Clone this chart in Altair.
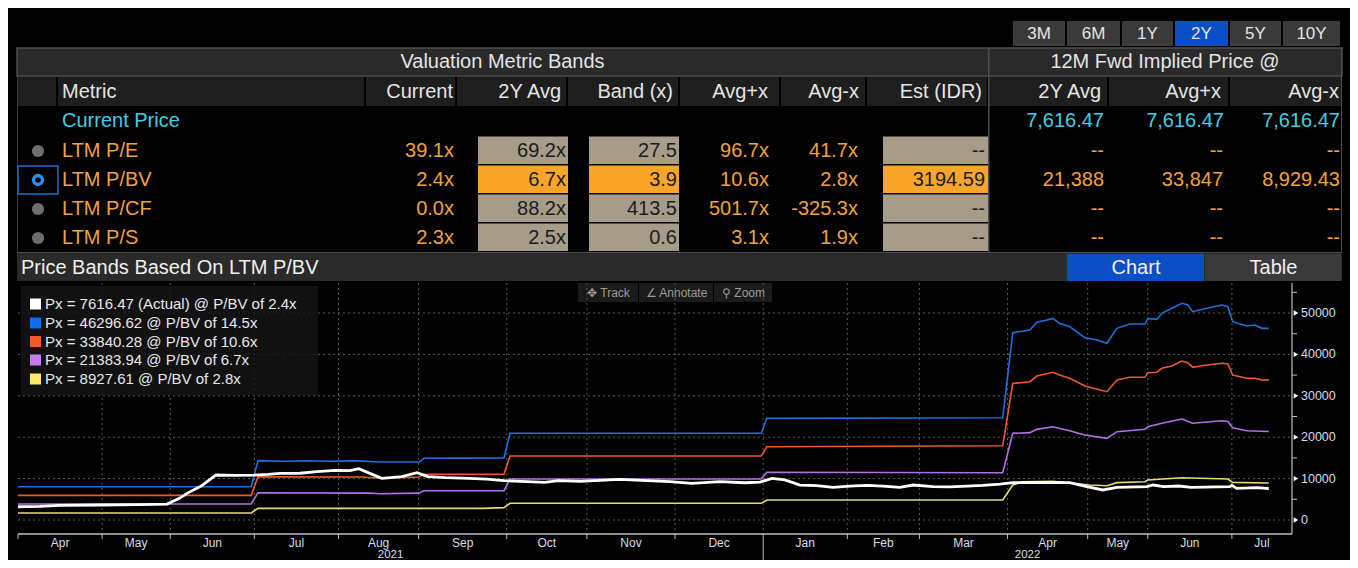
import altair as alt
import pandas as pd

# ---------------- values ----------------
periods = ["3M", "6M", "1Y", "2Y", "5Y", "10Y"]
selected_period = "2Y"
group_titles = ["Valuation Metric Bands", "12M Fwd Implied Price @"]
headers = ["Metric", "Current", "2Y Avg", "Band (x)", "Avg+x", "Avg-x",
           "Est (IDR)", "2Y Avg", "Avg+x", "Avg-x"]
price_label = "Current Price"
price_values = ["7,616.47", "7,616.47", "7,616.47"]
metrics = ["LTM P/E", "LTM P/BV", "LTM P/CF", "LTM P/S"]
selected_metric = "LTM P/BV"
current = ["39.1x", "2.4x", "0.0x", "2.3x"]
avg_2y = ["69.2x", "6.7x", "88.2x", "2.5x"]
band_x = ["27.5", "3.9", "413.5", "0.6"]
avg_plus = ["96.7x", "10.6x", "501.7x", "3.1x"]
avg_minus = ["41.7x", "2.8x", "-325.3x", "1.9x"]
est_idr = ["--", "3194.59", "--", "--"]
fwd_avg = ["--", "21,388", "--", "--"]
fwd_plus = ["--", "33,847", "--", "--"]
fwd_minus = ["--", "8,929.43", "--", "--"]
section_title = "Price Bands Based On LTM P/BV"
view_buttons = ["Chart", "Table"]
selected_view = "Chart"
tools = ["\u2725 Track", "\u2220 Annotate", "\u26b2 Zoom"]

# trading-day calendar (x axis counts trading days from 1 Apr 2021)
month_names = ["Apr", "May", "Jun", "Jul", "Aug", "Sep", "Oct", "Nov", "Dec",
               "Jan", "Feb", "Mar", "Apr", "May", "Jun", "Jul"]
month_start = [0, 21, 38, 59, 80, 100, 122, 142, 164, 186, 207, 225, 247, 267, 282, 303]
axis_end = 318
year_names = ["2021", "2022"]
year_start = [0, 186]
y_ticks = [0, 10000, 20000, 30000, 40000, 50000]
y_minor = [5000, 15000, 25000, 35000, 45000, 55000]

series_last = [7616.47, 46296.62, 33840.28, 21383.94, 8927.61]
series_multiple = ["2.4", "14.5", "10.6", "6.7", "2.8"]

actual_idx = [0, 5.5, 10.5, 20.5, 30.4, 37.2, 40.4, 42.2, 45.7, 49.4, 54.2, 58.9, 62.4, 65.4, 70.4,
              74.6, 79.1, 82.9, 85.1, 87.8, 90.8, 95.8, 99.6, 102.3, 106.8, 112.6, 117.0, 121.3, 127.0,
              131.5, 134.8, 140.3, 150.2, 157.0, 162.7, 168.2, 175.2, 181.4, 185.2, 188.2, 191.4, 195.2,
              199.4, 203.4, 207.6, 211.9, 215.9, 220.1, 223.4, 228.4, 232.6, 236.8, 240.8, 245.1, 248.3,
              255.0, 262.5, 266.8, 270.8, 274.3, 281.8, 283.3, 286.0, 289.8, 292.8, 302.5, 303.0, 304.2,
              309.2, 312.2]
actual_val = [3200, 3300, 3550, 3620, 3700, 3860, 5300, 6440, 8200, 10870, 10800, 10850, 11000, 11270,
              11300, 11670, 12000, 11950, 12400, 11270, 10070, 10470, 11430, 10470, 10220, 10070, 9900,
              9500, 9260, 9100, 9500, 9340, 9820, 9500, 9260, 8860, 9250, 9000, 9150, 10070, 9700, 8450,
              8300, 7900, 8200, 8370, 8200, 7900, 8450, 8050, 7980, 8200, 8370, 8650, 9020, 9100, 9020,
              8050, 7250, 7900, 8050, 8450, 8050, 8210, 7900, 8050, 8370, 7650, 7800, 7616]

blue_idx = [0, 58.2, 59.9, 66, 72, 78, 84, 90, 100.1, 101.3, 110, 121.3, 122.8, 185.5, 186.9, 245.8,
            248.3, 252.6, 254.3, 256.3, 258.3, 260.0, 262.5, 266.3, 269.3, 271.8, 274.3, 277.5, 281.3,
            282.0, 284.3, 285.5, 288.0, 290.5, 292.0, 293.2, 296.7, 300.5, 302.0, 303.2, 306.7, 308.7,
            310.5, 312.2]
blue_val = [8040, 8040, 14330, 14200, 14300, 14200, 14350, 14000, 14000, 14900, 14950, 14980, 20940,
            20940, 24560, 24700, 45240, 45900, 47750, 48200, 48700, 47500, 46700, 44040, 43480, 42680,
            46300, 47340, 47340, 48700, 48460, 49920, 51130, 52340, 51940, 50320, 51130, 51940, 51530,
            47900, 46860, 47100, 46300, 46297]

red_idx = [0, 58.2, 59.9, 85.4, 90.8, 100.1, 101.3, 121.3, 122.8, 185.5, 186.9, 245.8, 248.3, 252.6,
           254.3, 258.3, 260.0, 262.5, 266.3, 271.8, 274.3, 277.5, 281.3, 282.0, 284.3, 285.5, 288.0,
           290.5, 292.0, 293.2, 296.7, 300.5, 302.0, 303.2, 306.7, 308.7, 310.5, 312.2]
red_val = [5960, 5960, 10460, 10400, 10100, 10400, 11040, 11040, 15460, 15460, 17700, 17950, 33000,
           33400, 34780, 35680, 35000, 34230, 32370, 31000, 33820, 34470, 34470, 35590, 35700, 36640,
           37200, 38400, 38000, 36880, 37440, 37850, 37700, 35020, 34230, 34230, 33820, 33840]

purple_idx = [0, 58.2, 59.9, 87.8, 90.3, 100.1, 101.3, 121.3, 122.8, 185.5, 186.9, 245.8, 248.3, 252.6,
              254.3, 258.3, 262.5, 266.3, 271.8, 274.3, 281.3, 282.0, 285.5, 290.5, 293.2, 300.5, 302.0,
              303.2, 306.7, 312.2]
purple_val = [3860, 3860, 6600, 6500, 6350, 6500, 7080, 7080, 9900, 9900, 11520, 11430, 20940, 21100,
              21900, 22540, 21570, 20530, 19730, 21330, 21900, 22540, 23360, 24400, 23360, 23990, 23800,
              22300, 21570, 21384]

yellow_idx = [0, 58.2, 59.9, 116.0, 121.3, 122.8, 185.5, 186.9, 245.8, 248.3, 250.8, 258.3, 267.5,
              271.8, 274.3, 281.3, 282.0, 290.5, 302.0, 303.2, 312.2]
yellow_val = [1690, 1690, 2820, 2820, 2990, 4030, 4030, 4830, 4830, 8450, 9250, 9370, 8450, 8290, 9020,
              9250, 9660, 10220, 9900, 9100, 8928]

# ---------------- styles & layout (screenshot pixels) ----------------
FONT = "Liberation Sans, Arial, Helvetica, sans-serif"
W, H = 1342, 552
OFF = 8


def P(v):
    return v - OFF


C_BTN, C_SEL = "#3a3a3a", "#0b4fc6"
C_HDR1, C_HDR2, C_BORDER = "#2a2a2a", "#1e1e1e", "#4d4d4d"
C_TXT, C_ORANGE, C_CYAN = "#e4e4e4", "#f2a23a", "#42cde6"
C_TAN, C_HI, C_DARK = "#a79b89", "#f9a52a", "#1c1c1c"
C_DOT, C_RING = "#6e6e6e", "#2e8ff0"
C_GRID, C_AXIS, C_LBL = "#5a5a5a", "#bdbdbd", "#d6deec"
series_colors = ["#ffffff", "#1f6fe0", "#ec5a2c", "#b86eea", "#e6dc72"]
legend_colors = ["#ffffff", "#0f6cf5", "#f0592b", "#c47cf5", "#fbe66a"]

btn_edges = [1013, 1067, 1122, 1175, 1230, 1283, 1342]
col_edges = [17, 57, 365, 456, 567, 679, 780, 866, 988, 1108, 1229, 1342]
header_right = [None, 453, 561, 673, 768, 859, 982, 1101, 1221, 1339]
row_y = [121, 151, 180, 209, 238]
PL, PR, PT, PB = 18, 1292, 283, 534

rects, boxes = [], []
t_left, t_center, t_right = [], [], []


def rect(x1, y1, x2, y2, fill):
    rects.append(dict(x=P(x1), x2=P(x2), y=P(y1), y2=P(y2), fill=fill))


def box(x1, y1, x2, y2, stroke):
    boxes.append(dict(x=P(x1), x2=P(x2), y=P(y1), y2=P(y2), stroke=stroke))


def txt(lst, x, y, s, color, size):
    lst.append(dict(x=P(x), y=P(y), text=s, color=color, size=size))


# period buttons
for i, p in enumerate(periods):
    x1, x2 = btn_edges[i], btn_edges[i + 1] - 2
    rect(x1, 21, x2, 46, C_SEL if p == selected_period else C_BTN)
    txt(t_center, (x1 + x2) / 2, 34, p, C_TXT, 17)

# group title row
rect(17, 48, 1342, 76, C_HDR1)
box(17, 48, 1342, 76, C_BORDER)
txt(t_center, (17 + 988) / 2, 62, group_titles[0], C_TXT, 20)
txt(t_center, (988 + 1342) / 2, 62, group_titles[1], C_TXT, 20)

# column header row
for i in range(len(col_edges) - 1):
    rect(col_edges[i] + (0 if i == 0 else 1), 77, col_edges[i + 1] - 1, 106, C_HDR2)
txt(t_left, 62, 92, headers[0], C_TXT, 20)
for h, xr in zip(headers[1:], header_right[1:]):
    txt(t_right, xr, 92, h, C_TXT, 20)

# frame lines of the table
rect(17, 48, 18, 253, "#3c3c3c")
rect(988, 48, 989.5, 253, C_BORDER)
rect(1341, 48, 1342, 253, C_BORDER)
rect(17, 252, 1342, 253.5, C_BORDER)

# current price row
txt(t_left, 62, row_y[0], price_label, C_CYAN, 20)
for xr, v in zip([1104, 1224, 1340], price_values):
    txt(t_right, xr, row_y[0], v, C_CYAN, 20)

# metric rows
for i, m in enumerate(metrics):
    yc = row_y[i + 1]
    sel = m == selected_metric
    cell = C_HI if sel else C_TAN
    y1, y2 = yc - 14.5, yc + 13
    rect(478, y1, 568, y2, cell)
    rect(589, y1, 679, y2, cell)
    rect(883, y1, 988, y2, cell)
    if sel:
        box(18, yc - 14, 58, yc + 14, "#1d6fd6")
    txt(t_left, 62, yc, m, C_ORANGE, 20)
    txt(t_right, 454, yc, current[i], C_ORANGE, 20)
    txt(t_right, 566, yc, avg_2y[i], C_DARK, 20)
    txt(t_right, 677, yc, band_x[i], C_DARK, 20)
    txt(t_right, 769, yc, avg_plus[i], C_ORANGE, 20)
    txt(t_right, 858, yc, avg_minus[i], C_ORANGE, 20)
    txt(t_right, 985, yc, est_idr[i], C_DARK, 20)
    txt(t_right, 1104, yc, fwd_avg[i], C_ORANGE, 20)
    txt(t_right, 1223, yc, fwd_plus[i], C_ORANGE, 20)
    txt(t_right, 1340, yc, fwd_minus[i], C_ORANGE, 20)

dots = pd.DataFrame([dict(x=P(38), y=P(row_y[i + 1])) for i, m in enumerate(metrics) if m != selected_metric])
ring = pd.DataFrame([dict(x=P(38), y=P(row_y[i + 1])) for i, m in enumerate(metrics) if m == selected_metric])

# section bar
rect(17, 254, 1342, 281, C_HDR1)
txt(t_left, 21, 267.5, section_title, "#f0f0f0", 20)
vb_edges = [1067, 1205, 1342]
for i, b in enumerate(view_buttons):
    rect(vb_edges[i], 254, vb_edges[i + 1] - 1, 281, C_SEL if b == selected_view else C_BTN)
    txt(t_center, (vb_edges[i] + vb_edges[i + 1]) / 2, 267.5, b, "#f0f0f0", 20)

# chart toolbar
tool_edges = [578, 639, 714, 773]
for i, t in enumerate(tools):
    rect(tool_edges[i], 283, tool_edges[i + 1] - 1, 302, "#1b1b1b")
    txt(t_center, (tool_edges[i] + tool_edges[i + 1]) / 2, 292.5, t, "#9c9c9c", 12)

# legend
leg_y = [304, 323, 341.5, 360, 379]
legend_box = pd.DataFrame([dict(x=P(21), x2=P(318), y=P(286), y2=P(395))])
leg_rows, leg_sw = [], []
for i in range(5):
    label = f"Px = {series_last[i]:.2f}" + (" (Actual)" if i == 0 else "") + f" @ P/BV of {series_multiple[i]}x"
    leg_rows.append(dict(x=P(45), y=P(leg_y[i]), text=label, color="#e8e8e8", size=15))
    leg_sw.append(dict(x=P(30), x2=P(41), y=P(leg_y[i] - 5.5), y2=P(leg_y[i] + 5.5), fill=legend_colors[i]))

# ---------------- scales ----------------
TX = alt.Scale(domain=[0, W], range=[0, W], nice=False, zero=False)
TY = alt.Scale(domain=[0, H], range=[0, H], nice=False, zero=False)
CX = alt.Scale(domain=[0, axis_end], range=[P(PL), P(PR)], nice=False, zero=False)
CY = alt.Scale(domain=[-3380, 57250], range=[P(PB), P(PT)], nice=False, zero=False)


def rect_layer(df, **kw):
    return alt.Chart(df).mark_rect(**kw).encode(
        x=alt.X("x:Q", scale=TX, axis=None), x2="x2:Q",
        y=alt.Y("y:Q", scale=TY, axis=None), y2="y2:Q",
        color=alt.Color("fill:N", scale=None))


def box_layer(df):
    return alt.Chart(df).mark_rect(filled=False, strokeWidth=1.5).encode(
        x=alt.X("x:Q", scale=TX, axis=None), x2="x2:Q",
        y=alt.Y("y:Q", scale=TY, axis=None), y2="y2:Q",
        color=alt.Color("stroke:N", scale=None))


def text_layer(rows, align):
    return alt.Chart(pd.DataFrame(rows)).mark_text(align=align, baseline="middle", font=FONT).encode(
        x=alt.X("x:Q", scale=TX, axis=None), y=alt.Y("y:Q", scale=TY, axis=None),
        text="text:N", color=alt.Color("color:N", scale=None), size=alt.Size("size:Q", scale=None))


layers = [
    rect_layer(pd.DataFrame(rects)),
    box_layer(pd.DataFrame(boxes)),
    alt.Chart(dots).mark_circle(size=150, opacity=1, color=C_DOT).encode(
        x=alt.X("x:Q", scale=TX, axis=None), y=alt.Y("y:Q", scale=TY, axis=None)),
    alt.Chart(ring).mark_point(shape="circle", filled=False, size=80, strokeWidth=3.4, color=C_RING, opacity=1).encode(
        x=alt.X("x:Q", scale=TX, axis=None), y=alt.Y("y:Q", scale=TY, axis=None)),
    text_layer(t_left, "left"), text_layer(t_center, "center"), text_layer(t_right, "right"),
]

# ---- price chart ----
grid_h = pd.DataFrame({"v": y_ticks})
grid_v = pd.DataFrame({"idx": month_start[1:]})
layers += [
    alt.Chart(grid_h).mark_rule(color=C_GRID, strokeDash=[2, 3], strokeWidth=1).encode(
        y=alt.Y("v:Q", scale=CY, axis=None), x=alt.value(P(PL)), x2=alt.value(P(PR))),
    alt.Chart(grid_v).mark_rule(color=C_GRID, strokeDash=[2, 3], strokeWidth=1).encode(
        x=alt.X("idx:Q", scale=CX, axis=None), y=alt.value(P(PT)), y2=alt.value(P(PB))),
    rect_layer(legend_box.assign(fill="#151515"), opacity=0.82),
]

band_rows = []
for name, xs, ys, col in [("blue", blue_idx, blue_val, series_colors[1]),
                          ("red", red_idx, red_val, series_colors[2]),
                          ("purple", purple_idx, purple_val, series_colors[3]),
                          ("yellow", yellow_idx, yellow_val, series_colors[4])]:
    assert len(xs) == len(ys)
    band_rows += [dict(idx=a, value=b, series=name, color=col) for a, b in zip(xs, ys)]
assert len(actual_idx) == len(actual_val)
actual_df = pd.DataFrame({"idx": actual_idx, "value": actual_val})

layers += [
    alt.Chart(pd.DataFrame(band_rows)).mark_line(strokeWidth=1.6).encode(
        x=alt.X("idx:Q", scale=CX, axis=None), y=alt.Y("value:Q", scale=CY, axis=None),
        color=alt.Color("color:N", scale=None), detail="series:N"),
    alt.Chart(actual_df).mark_line(strokeWidth=2.8, color=series_colors[0]).encode(
        x=alt.X("idx:Q", scale=CX, axis=None), y=alt.Y("value:Q", scale=CY, axis=None)),
]

# axes drawn by hand (Bloomberg style)
month_mid = [(month_start[i] + (month_start[i + 1] if i + 1 < len(month_start) else axis_end)) / 2
             for i in range(len(month_start))]
year_mid = [(year_start[i] + (year_start[i + 1] if i + 1 < len(year_start) else axis_end)) / 2
            for i in range(len(year_start))]
months_df = pd.DataFrame({"mid": month_mid, "name": month_names})
years_df = pd.DataFrame({"mid": year_mid, "name": year_names})
ticks_df = pd.DataFrame({"idx": [m for m in month_start if m not in year_start[1:]]})
ytick_df = pd.DataFrame({"v": y_ticks, "label": [str(v) for v in y_ticks]})
yminor_df = pd.DataFrame({"v": y_minor})

layers += [
    alt.Chart(pd.DataFrame({"v": [0]})).mark_rule(color=C_AXIS, strokeWidth=1.5).encode(
        x=alt.value(P(PL)), x2=alt.value(P(PR)), y=alt.value(P(PB))),
    alt.Chart(pd.DataFrame({"v": [0]})).mark_rule(color=C_AXIS, strokeWidth=1.2).encode(
        x=alt.value(P(PR)), y=alt.value(P(PT)), y2=alt.value(P(PB))),
    alt.Chart(ticks_df).mark_rule(color=C_AXIS, strokeWidth=1).encode(
        x=alt.X("idx:Q", scale=CX, axis=None), y=alt.value(P(PB)), y2=alt.value(P(PB + 5))),
    alt.Chart(pd.DataFrame({"idx": year_start[1:]})).mark_rule(color=C_AXIS, strokeWidth=1).encode(
        x=alt.X("idx:Q", scale=CX, axis=None), y=alt.value(P(PB)), y2=alt.value(H)),
    alt.Chart(months_df).mark_text(baseline="middle", font=FONT, fontSize=12, color=C_LBL).encode(
        x=alt.X("mid:Q", scale=CX, axis=None), y=alt.value(P(542.5)), text="name:N"),
    alt.Chart(years_df).mark_text(baseline="middle", font=FONT, fontSize=11.5, color=C_LBL).encode(
        x=alt.X("mid:Q", scale=CX, axis=None), y=alt.value(P(555)), text="name:N"),
    alt.Chart(yminor_df).mark_rule(color=C_AXIS, strokeWidth=1).encode(
        y=alt.Y("v:Q", scale=CY, axis=None), x=alt.value(P(PR)), x2=alt.value(P(PR + 5))),
    alt.Chart(ytick_df).mark_point(shape="triangle-right", filled=True, size=28, color="#ffffff", opacity=1).encode(
        y=alt.Y("v:Q", scale=CY, axis=None), x=alt.value(P(PR + 4))),
    alt.Chart(ytick_df).mark_text(align="left", baseline="middle", font=FONT, fontSize=12.5, color=C_LBL).encode(
        y=alt.Y("v:Q", scale=CY, axis=None), x=alt.value(P(PR + 9)), text="label:N"),
    rect_layer(pd.DataFrame(leg_sw)),
    text_layer(leg_rows, "left"),
]

chart = alt.layer(*layers).resolve_scale(x="independent", y="independent").properties(
    width=W, height=H, padding=0, autosize=alt.AutoSizeParams(type="none"), background="#000000"
).configure_view(stroke=None)

chart.save("out.html", embed_options={"renderer": "svg", "actions": False})
